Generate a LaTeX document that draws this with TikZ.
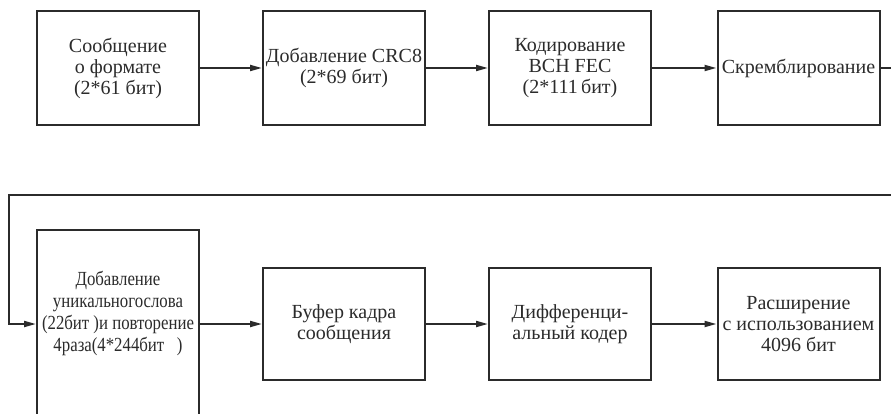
\documentclass[tikz,border=0pt]{standalone}
\usepackage{fontspec}
\setmainfont{Liberation Serif}
\newfontfamily\narrowserif{Liberation Serif}[FakeStretch=0.84]
\usetikzlibrary{arrows.meta}
\definecolor{ink}{HTML}{2B2B2B}
\tikzset{
  blk/.style={draw=ink, line width=2pt, minimum width=162pt, inner sep=0pt, align=center,
    text=ink, font=\fontsize{20}{21}\selectfont},
  toprow/.style={blk, minimum height=114pt},
  botrow/.style={blk, minimum height=112pt},
  wire/.style={draw=ink, line width=2pt},
  arr/.style={wire, -{Stealth[length=12pt,width=6pt,inset=0pt]}},
  txt/.style={inner sep=0pt, align=center, text=ink, font=\narrowserif\fontsize{20}{22}\selectfont}
}
\begin{document}
\begin{tikzpicture}[x=1pt,y=-1pt]
\useasboundingbox (0,0) rectangle (891,414);
\node[toprow] (b1) at (118,68) {Сообщение\\о формате\\(2*61 бит)};
\node[toprow] (b2) at (344,68) {Добавление CRC8\\(2*69 бит)};
\node[toprow] (b3) at (570,68) {Кодирование\\BCH FEC\\(2*111\,бит)};
\node[toprow] (b4) at (798.5,68) {Скремблирование};
\node[blk, minimum height=240pt, anchor=north] (b5) at (118,229) {};
\node[txt] (t5) at (118,313) {Добавление\\уникальногослова\\(22бит )и повторение\\4раза(4*244бит\ \ \ )};
\node[botrow] (b6) at (344,324) {Буфер кадра\\сообщения};
\node[botrow] (b7) at (570,324) {Дифференци-\\альный кодер};
\node[botrow] (b8) at (798.5,324) {Расширение\\с использованием\\4096 бит};
\coordinate (rtop) at (891,68);
\coordinate (rbot) at (891,195);
\coordinate (lbot) at (9,195);
\draw[arr] (b1) -- (b2);
\draw[arr] (b2) -- (b3);
\draw[arr] (b3) -- (b4);
\draw[wire] (b4.east) -- (rtop);
\draw[arr] (rbot) -- (lbot) |- (b5.west |- b6.west);
\draw[arr] (b5.east |- b6.west) -- (b6.west);
\draw[arr] (b6) -- (b7);
\draw[arr] (b7) -- (b8);
\end{tikzpicture}
\end{document}
